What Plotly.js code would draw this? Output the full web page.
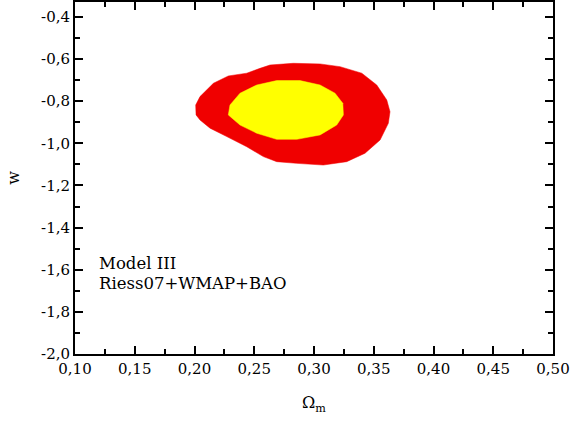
<!DOCTYPE html>
<html>
<head>
<meta charset="utf-8">
<script src="https://cdn.plot.ly/plotly-3.0.1.min.js"></script>
<style>html,body{margin:0;padding:0;background:#fff;}#chart{width:571px;height:421px;}</style>
</head>
<body>
<div id="chart"></div>
<script>
// Outer (2-sigma) contour boundary, Omega_m and w
const outerOmega = [0.2046,0.2158,0.2283,0.2437,0.2548,0.2632,0.2827,0.3051,0.3218,0.3400,0.3525,0.3609,0.3636,0.3622,0.3553,0.3427,0.3274,0.3078,0.2856,0.2688,0.2576,0.2437,0.2270,0.2130,0.2046,0.2013,0.2010,0.2046];
const outerW     = [-0.778,-0.715,-0.680,-0.667,-0.644,-0.628,-0.620,-0.623,-0.636,-0.667,-0.723,-0.794,-0.850,-0.905,-0.984,-1.047,-1.087,-1.103,-1.095,-1.087,-1.063,-1.016,-0.968,-0.928,-0.889,-0.865,-0.818,-0.778];
// Inner (1-sigma) contour boundary
const innerOmega = [0.2283,0.2297,0.2381,0.2521,0.2688,0.2883,0.3051,0.3176,0.3241,0.3246,0.3190,0.3051,0.2856,0.2688,0.2521,0.2381,0.2283];
const innerW     = [-0.865,-0.818,-0.762,-0.723,-0.702,-0.702,-0.723,-0.762,-0.810,-0.865,-0.913,-0.960,-0.981,-0.981,-0.952,-0.913,-0.865];

const xTickVals = [0.10,0.15,0.20,0.25,0.30,0.35,0.40,0.45,0.50];
const xTickLabels = ['0,10','0,15','0,20','0,25','0,30','0,35','0,40','0,45','0,50'];
const yTickVals = [-2.0,-1.8,-1.6,-1.4,-1.2,-1.0,-0.8,-0.6,-0.4];
const yTickLabels = ['-2,0','-1,8','-1,6','-1,4','-1,2','-1,0','-0,8','-0,6','-0,4'];

const labelLines = ['Model III','Riess07+WMAP+BAO'];

const FONT = 'DejaVu Serif, Liberation Serif, serif';

const traces = [
  {x: outerOmega, y: outerW, type:'scatter', mode:'lines', fill:'toself',
   fillcolor:'rgb(240,0,0)', line:{color:'rgb(240,0,0)', width:0.5}, hoverinfo:'skip', showlegend:false},
  {x: innerOmega, y: innerW, type:'scatter', mode:'lines', fill:'toself',
   fillcolor:'rgb(255,255,0)', line:{color:'rgb(255,255,0)', width:0.5}, hoverinfo:'skip', showlegend:false}
];

const axisCommon = {
  showline:true, linecolor:'#000', linewidth:2, mirror:'allticks',
  ticks:'inside', ticklen:8, tickwidth:2, tickcolor:'#000',
  showgrid:false, zeroline:false,
  tickfont:{family:FONT, size:15, color:'#000'}
};

const layout = {
  width:571, height:421,
  margin:{l:75, r:18, t:2, b:67},
  paper_bgcolor:'#fff', plot_bgcolor:'#fff',
  font:{family:FONT, color:'#000'},
  xaxis: Object.assign({}, axisCommon, {
    range:[0.10,0.50], tickvals:xTickVals, ticktext:xTickLabels,
    minor:{ticks:'inside', ticklen:5, tickwidth:2, tickcolor:'#000', dtick:0.025, tick0:0.1},
    title:{text:'Ω<sub>m</sub>', font:{family:FONT, size:16, color:'#000'}, standoff:20}
  }),
  yaxis: Object.assign({}, axisCommon, {
    range:[-2.0,-0.329], tickvals:yTickVals, ticktext:yTickLabels,
    minor:{ticks:'inside', ticklen:5, tickwidth:2, tickcolor:'#000', dtick:0.1, tick0:0},
    title:{text:'w', font:{family:FONT, size:16, color:'#000'}, standoff:17}
  }),
  annotations:[
    {x:0.1184, y:-1.568, xref:'x', yref:'y', text:labelLines[0], showarrow:false, xanchor:'left', yanchor:'middle', font:{family:FONT, size:16.5, color:'#000'}},
    {x:0.1184, y:-1.663, xref:'x', yref:'y', text:labelLines[1], showarrow:false, xanchor:'left', yanchor:'middle', font:{family:FONT, size:16.5, color:'#000'}}
  ]
};

Plotly.newPlot('chart', traces, layout, {displayModeBar:false, staticPlot:true});
</script>
</body>
</html>
